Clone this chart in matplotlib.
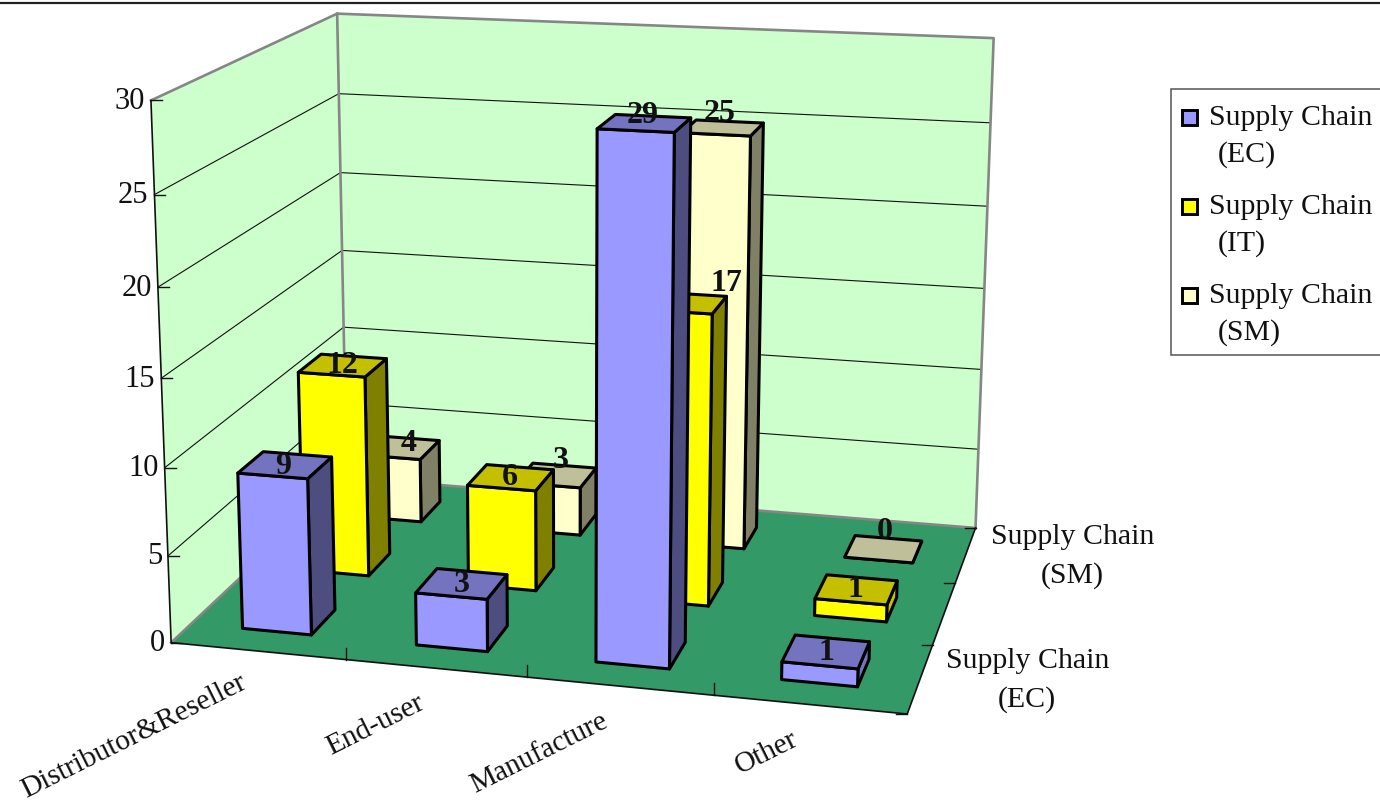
import numpy as np
import matplotlib
matplotlib.use('Agg')
import matplotlib.pyplot as plt
from matplotlib.patches import Polygon, Rectangle

categories = ['Distributor&Reseller', 'End-user', 'Manufacture', 'Other']
supply_ec = [9, 3, 29, 1]
supply_it = [12, 6, 17, 1]
supply_sm = [4, 3, 25, 0]
z_ticks = [0, 5, 10, 15, 20, 25, 30]
series_names = ['Supply Chain\n(EC)', 'Supply Chain\n(IT)', 'Supply Chain\n(SM)']

plt.rcParams['font.family'] = ['Liberation Serif', 'DejaVu Serif']
FS = 21.5
W, H = 1380, 802

# (cat, series, value) -> pixel, camera matched to the box corners of the picture
world = np.array([(0, 0, 0), (0, 0, 30), (0, 0, 15), (0, 3, 30), (0, 3, 0), (0, 3, 15),
                  (4, 3, 30), (4, 3, 0), (4, 3, 15), (4, 0, 0), (1, 0, 0), (2, 0, 0),
                  (3, 0, 0), (4, 1, 0), (4, 2, 0)], float)
pix = np.array([(172, 643), (150, 99), (162, 378), (338, 14), (345, 476), (342, 252),
                (993, 38), (977, 527), (985, 289), (907, 714), (347, 660), (527, 678),
                (713, 696), (932, 643), (955, 584)], float)
rows, rhs = [], []
for (a, b, c), (u, v) in zip(world, pix):
    rows.append([a, b, c, 1, 0, 0, 0, 0, -u * a, -u * b, -u * c])
    rows.append([0, 0, 0, 0, a, b, c, 1, -v * a, -v * b, -v * c])
    rhs += [u, v]
cam = np.append(np.linalg.lstsq(np.array(rows), np.array(rhs), rcond=None)[0], 1).reshape(3, 4)


def proj(x, y, z):
    p = cam @ np.array([x, y, z, 1.0])
    return p[0] / p[2], p[1] / p[2]


fig = plt.figure(figsize=(W / 100, H / 100), dpi=100)
ax = fig.add_axes([0, 0, 1, 1])
ax.set_xlim(0, W)
ax.set_ylim(H, 0)
ax.axis('off')

GREY = '#868686'
# top rule of the page
ax.plot([0, W], [3, 3], color='#222222', lw=1.6)

# walls and floor
ax.add_patch(Polygon([proj(0, 0, 0), proj(0, 0, 30), proj(0, 3, 30), proj(0, 3, 0)], fc='#CCFFCC', ec='none'))
ax.add_patch(Polygon([proj(0, 3, 0), proj(0, 3, 30), proj(4, 3, 30), proj(4, 3, 0)], fc='#CCFFCC', ec='none'))
ax.add_patch(Polygon([proj(0, 0, 0), proj(0, 3, 0), proj(4, 3, 0), proj(4, 0, 0)], fc='#339966', ec='none'))

for z in z_ticks[1:-1]:
    pts = [proj(0, 0, z), proj(0, 3, z), proj(4, 3, z)]
    ax.plot(*zip(*pts), color='#111111', lw=0.8)

# grey outline of the walls
for pts in ([proj(0, 0, 30), proj(0, 3, 30), proj(4, 3, 30), proj(4, 3, 0)],
            [proj(0, 3, 30), proj(0, 3, 0)],
            [proj(0, 0, 0), proj(0, 3, 0), proj(4, 3, 0)]):
    ax.plot(*zip(*pts), color=GREY, lw=1.9)

# black axes
pts = [proj(0, 0, 30), proj(0, 0, 0), proj(4, 0, 0), proj(4, 3, 0)]
ax.plot(*zip(*pts), color='#111111', lw=1.2)

for z in z_ticks:
    x, y = proj(0, 0, z)
    ax.plot([x, x + 11], [y, y], color='#111111', lw=1)
    ax.text(x - 6, y + 1, str(z), ha='right', va='center', fontsize=22, color='#111111')
for i in range(1, 4):
    x, y = proj(i, 0, 0)
    ax.plot([x, x], [y, y - 12], color='#111111', lw=1)
for j in range(0, 4):
    x, y = proj(4, j, 0)
    ax.plot([x, x - 11], [y, y], color='#111111', lw=1)

# category labels, the long one lifted a little so it stays on the page
for i, name in enumerate(categories):
    x, y = proj(i + 0.5, 0, 0)
    lift = 4 if i == 0 else 0
    ax.text(x - 19, y + 22 - lift, name, rotation=26.5, rotation_mode='anchor', ha='right', va='top',
            fontsize=21.2, color='#111111')

# series labels, the middle one is skipped like in the picture
for j in (0, 2):
    x, y = proj(4, j + 0.5, 0)
    ax.text(x + 107, y + 2, series_names[j], ha='center', va='center', fontsize=FS,
            color='#111111', linespacing=1.6)

# bars, back to front
series = [supply_ec, supply_it, supply_sm]
face = ['#9999FF', '#FFFF00', '#FFFFCC']
top = ['#7373BF', '#C4C000', '#BFBF99']
side = ['#4D4D80', '#808000', '#808066']
w = 0.2
for j in (2, 1, 0):
    for i in range(4):
        v = series[j][i]
        # back rows sit a touch right and forward of the fitted camera
        cx = i + 0.5 + 0.009 * j
        cy = j + 0.5 - 0.02 * (j > 0)
        x0, x1 = cx - w, cx + w
        y0, y1 = cy - w, cy + w
        kw = dict(ec='black', lw=2.2, joinstyle='round', zorder=4)
        ax.add_patch(Polygon([proj(x1, y0, 0), proj(x1, y1, 0), proj(x1, y1, v), proj(x1, y0, v)], fc=side[j] if v > 1 else top[j], **kw))
        ax.add_patch(Polygon([proj(x0, y0, 0), proj(x1, y0, 0), proj(x1, y0, v), proj(x0, y0, v)], fc=face[j], **kw))
        ax.add_patch(Polygon([proj(x0, y0, v), proj(x1, y0, v), proj(x1, y1, v), proj(x0, y1, v)], fc=top[j], **kw))

# value labels sit on the top face, a few were moved by hand in the original
nudge = {(2, 2): (-1, -14), (2, 1): (43, -18), (1, 2): (7, -14), (2, 0): (-2, -8), (0, 2): (12, -3),
         (3, 2): (4, -16), (0, 0): (-2, 1)}
for j in (2, 1, 0):
    for i in range(4):
        v = series[j][i]
        x, y = proj(i + 0.5, j + 0.5, v)
        dx, dy = nudge.get((i, j), (0, 1))
        ax.text(x + dx, y + dy, str(v), ha='center', va='center', fontsize=23, fontweight='bold',
                color='#111111', zorder=5)

# legend box runs off the right edge
ax.add_patch(Rectangle((1171, 89), 260, 266, fc='white', ec='#555555', lw=1.1, clip_on=True))
for j, name in enumerate(series_names):
    first, second = name.split('\n')
    yc = 115 + j * 89
    ax.add_patch(Rectangle((1182, yc - 5), 15, 15, fc=face[j], ec='black', lw=2.1))
    ax.text(1209, yc + 3, first, ha='left', va='center', fontsize=FS, color='#111111')
    ax.text(1218, yc + 40, second, ha='left', va='center', fontsize=FS, color='#111111')

fig.savefig('out.png', dpi=100)
